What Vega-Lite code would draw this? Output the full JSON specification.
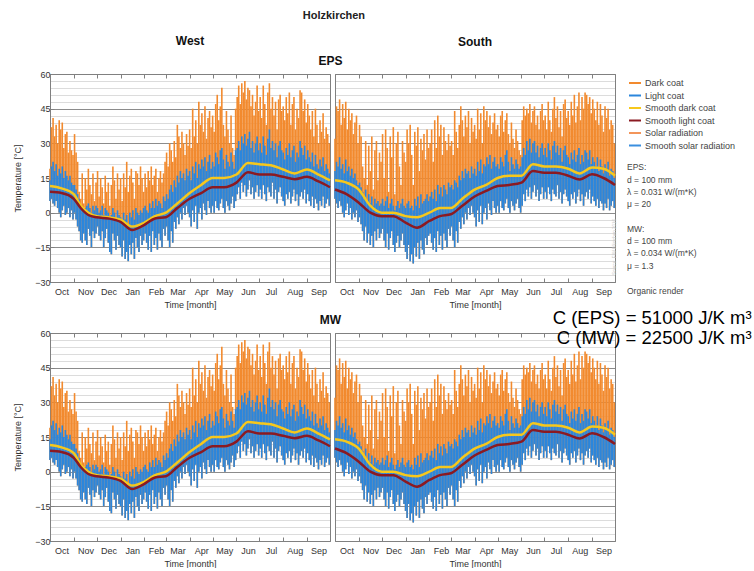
{
"$schema":"https://vega.github.io/schema/vega-lite/v6.json",
"padding":{"left":13,"top":9,"right":0,"bottom":0},
"background":"white",
"title":{"text":"Holzkirchen","anchor":"start","dx":289,"fontSize":11,"fontWeight":"bold","color":"#222","offset":14},
"datasets":{
"w":[{"d":0,"l":5,"b":14,"o":19},{"d":2,"l":6,"b":20,"o":37},{"d":4,"l":4,"b":22,"o":41},{"d":6,"l":3,"b":18,"o":33},{"d":8,"l":5,"b":21,"o":38},{"d":10,"l":2,"b":16,"o":30},{"d":12,"l":0,"b":19,"o":40},{"d":14,"l":-2,"b":17,"o":36},{"d":16,"l":1,"b":20,"o":39},{"d":18,"l":3,"b":15,"o":28},{"d":20,"l":-1,"b":18,"o":34},{"d":22,"l":0,"b":16,"o":35},{"d":24,"l":2,"b":14,"o":26},{"d":26,"l":-2,"b":16,"o":31},{"d":28,"l":1,"b":13,"o":27},{"d":30,"l":-3,"b":12,"o":25},
{"d":32,"l":0,"b":12,"o":34},{"d":34,"l":-3,"b":10,"o":26},{"d":36,"l":-6,"b":8,"o":22},{"d":38,"l":-8,"b":6,"o":9},{"d":40,"l":-12,"b":3,"o":6},{"d":42,"l":-13,"b":2,"o":17},{"d":44,"l":-9,"b":1,"o":4},{"d":46,"l":-12,"b":2,"o":15},{"d":48,"l":-14,"b":3,"o":10},{"d":50,"l":-7,"b":4,"o":19},{"d":52,"l":-10,"b":2,"o":12},{"d":54,"l":-15,"b":0,"o":8},{"d":56,"l":-8,"b":3,"o":17},{"d":58,"l":-11,"b":1,"o":5},{"d":60,"l":-9,"b":3,"o":13},
{"d":62,"l":-6,"b":2,"o":18},{"d":64,"l":-10,"b":0,"o":7},{"d":66,"l":-12,"b":1,"o":15},{"d":68,"l":-8,"b":3,"o":11},{"d":70,"l":-15,"b":-1,"o":4},{"d":72,"l":-11,"b":2,"o":16},{"d":74,"l":-7,"b":1,"o":9},{"d":76,"l":-13,"b":0,"o":13},{"d":78,"l":-17,"b":-2,"o":3},{"d":80,"l":-18,"b":-1,"o":12},{"d":82,"l":-9,"b":2,"o":20},{"d":84,"l":-12,"b":0,"o":14},{"d":86,"l":-16,"b":-3,"o":6},{"d":88,"l":-10,"b":1,"o":17},{"d":90,"l":-14,"b":-1,"o":10},
{"d":92,"l":-15,"b":-2,"o":15},{"d":94,"l":-19,"b":-4,"o":5},{"d":96,"l":-12,"b":0,"o":17},{"d":98,"l":-20,"b":-3,"o":11},{"d":100,"l":-17,"b":-1,"o":22},{"d":102,"l":-21,"b":-5,"o":9},{"d":104,"l":-14,"b":0,"o":16},{"d":106,"l":-18,"b":-2,"o":19},{"d":108,"l":-13,"b":1,"o":13},{"d":110,"l":-20,"b":-3,"o":6},{"d":112,"l":-11,"b":2,"o":18},{"d":114,"l":-15,"b":0,"o":17},{"d":116,"l":-17,"b":-1,"o":12},{"d":118,"l":-10,"b":1,"o":20},{"d":120,"l":-14,"b":0,"o":15},{"d":122,"l":-12,"b":2,"o":9},
{"d":124,"l":-9,"b":3,"o":17},{"d":126,"l":-13,"b":1,"o":11},{"d":128,"l":-16,"b":0,"o":18},{"d":130,"l":-10,"b":4,"o":14},{"d":132,"l":-17,"b":2,"o":20},{"d":134,"l":-8,"b":5,"o":12},{"d":136,"l":-14,"b":2,"o":16},{"d":138,"l":-11,"b":6,"o":19},{"d":140,"l":-16,"b":3,"o":9},{"d":142,"l":-9,"b":5,"o":15},{"d":144,"l":-12,"b":4,"o":18},{"d":146,"l":-15,"b":2,"o":13},{"d":148,"l":-7,"b":7,"o":17},{"d":150,"l":-10,"b":5,"o":22},
{"d":152,"l":-6,"b":8,"o":26},{"d":154,"l":-12,"b":6,"o":20},{"d":156,"l":-15,"b":10,"o":30},{"d":158,"l":-8,"b":12,"o":27},{"d":160,"l":-13,"b":9,"o":22},{"d":162,"l":-4,"b":14,"o":31},{"d":164,"l":-7,"b":11,"o":24},{"d":166,"l":-2,"b":16,"o":38},{"d":168,"l":-5,"b":13,"o":33},{"d":170,"l":0,"b":18,"o":28},{"d":172,"l":-3,"b":15,"o":35},{"d":174,"l":2,"b":17,"o":30},{"d":176,"l":-1,"b":14,"o":25},{"d":178,"l":3,"b":19,"o":34},{"d":180,"l":0,"b":16,"o":29},
{"d":182,"l":-2,"b":18,"o":36},{"d":184,"l":-6,"b":14,"o":28},{"d":186,"l":1,"b":20,"o":45},{"d":188,"l":-4,"b":17,"o":33},{"d":190,"l":3,"b":22,"o":40},{"d":192,"l":-7,"b":15,"o":30},{"d":194,"l":0,"b":21,"o":48},{"d":196,"l":2,"b":19,"o":38},{"d":198,"l":-3,"b":23,"o":43},{"d":200,"l":4,"b":20,"o":35},{"d":202,"l":1,"b":24,"o":46},{"d":204,"l":-1,"b":18,"o":32},{"d":206,"l":5,"b":22,"o":41},{"d":208,"l":2,"b":25,"o":44},{"d":210,"l":0,"b":19,"o":37},
{"d":212,"l":3,"b":22,"o":42},{"d":214,"l":0,"b":20,"o":35},{"d":216,"l":5,"b":26,"o":47},{"d":218,"l":2,"b":24,"o":51},{"d":220,"l":1,"b":21,"o":40},{"d":222,"l":4,"b":27,"o":46},{"d":224,"l":6,"b":28,"o":54},{"d":226,"l":2,"b":23,"o":38},{"d":228,"l":0,"b":19,"o":33},{"d":230,"l":5,"b":25,"o":44},{"d":232,"l":3,"b":22,"o":36},{"d":234,"l":1,"b":20,"o":30},{"d":236,"l":4,"b":26,"o":42},{"d":238,"l":7,"b":22,"o":28},{"d":240,"l":2,"b":19,"o":25},{"d":242,"l":5,"b":27,"o":45},
{"d":244,"l":8,"b":28,"o":50},{"d":246,"l":11,"b":31,"o":55},{"d":248,"l":6,"b":27,"o":47},{"d":250,"l":13,"b":33,"o":56},{"d":252,"l":9,"b":30,"o":52},{"d":254,"l":12,"b":34,"o":57},{"d":256,"l":7,"b":29,"o":49},{"d":258,"l":10,"b":32,"o":54},{"d":260,"l":14,"b":35,"o":53},{"d":262,"l":8,"b":28,"o":46},{"d":264,"l":11,"b":31,"o":51},{"d":266,"l":6,"b":26,"o":42},{"d":268,"l":9,"b":30,"o":48},{"d":270,"l":12,"b":33,"o":55},{"d":272,"l":7,"b":27,"o":44},
{"d":274,"l":10,"b":30,"o":50},{"d":276,"l":6,"b":26,"o":41},{"d":278,"l":12,"b":33,"o":55},{"d":280,"l":8,"b":29,"o":47},{"d":282,"l":5,"b":25,"o":38},{"d":284,"l":11,"b":32,"o":52},{"d":286,"l":9,"b":36,"o":56},{"d":288,"l":7,"b":28,"o":45},{"d":290,"l":13,"b":31,"o":50},{"d":292,"l":6,"b":27,"o":42},{"d":294,"l":10,"b":30,"o":48},{"d":296,"l":4,"b":24,"o":36},{"d":298,"l":9,"b":29,"o":49},{"d":300,"l":11,"b":31,"o":51},{"d":302,"l":7,"b":27,"o":44},
{"d":304,"l":5,"b":26,"o":46},{"d":306,"l":3,"b":23,"o":40},{"d":308,"l":8,"b":28,"o":50},{"d":310,"l":6,"b":25,"o":43},{"d":312,"l":9,"b":30,"o":52},{"d":314,"l":4,"b":24,"o":38},{"d":316,"l":7,"b":27,"o":47},{"d":318,"l":10,"b":29,"o":50},{"d":320,"l":5,"b":22,"o":36},{"d":322,"l":8,"b":26,"o":45},{"d":324,"l":3,"b":24,"o":41},{"d":326,"l":7,"b":31,"o":53},{"d":328,"l":9,"b":28,"o":52},{"d":330,"l":6,"b":25,"o":44},{"d":332,"l":10,"b":29,"o":49},{"d":334,"l":4,"b":23,"o":39},
{"d":336,"l":8,"b":27,"o":47},{"d":338,"l":5,"b":24,"o":42},{"d":340,"l":3,"b":22,"o":36},{"d":342,"l":7,"b":26,"o":44},{"d":344,"l":2,"b":20,"o":33},{"d":346,"l":6,"b":25,"o":45},{"d":348,"l":4,"b":21,"o":38},{"d":350,"l":1,"b":19,"o":30},{"d":352,"l":5,"b":23,"o":40},{"d":354,"l":3,"b":20,"o":35},{"d":356,"l":7,"b":24,"o":43},{"d":358,"l":2,"b":18,"o":32},{"d":360,"l":4,"b":21,"o":37},{"d":362,"l":6,"b":19,"o":34},{"d":364,"l":3,"b":17,"o":30}],
"s":[{"d":0,"l":6,"b":18,"o":32},{"d":2,"l":4,"b":22,"o":46},{"d":4,"l":2,"b":20,"o":44},{"d":6,"l":5,"b":24,"o":49},{"d":8,"l":3,"b":19,"o":38},{"d":10,"l":0,"b":21,"o":47},{"d":12,"l":-2,"b":17,"o":41},{"d":14,"l":1,"b":23,"o":48},{"d":16,"l":4,"b":18,"o":36},{"d":18,"l":-1,"b":20,"o":45},{"d":20,"l":2,"b":16,"o":40},{"d":22,"l":-3,"b":19,"o":43},{"d":24,"l":0,"b":15,"o":34},{"d":26,"l":-2,"b":17,"o":39},{"d":28,"l":1,"b":14,"o":42},{"d":30,"l":-4,"b":12,"o":30},
{"d":32,"l":-2,"b":13,"o":38},{"d":34,"l":-5,"b":11,"o":33},{"d":36,"l":-8,"b":9,"o":20},{"d":38,"l":-12,"b":6,"o":15},{"d":40,"l":-6,"b":10,"o":31},{"d":42,"l":-13,"b":5,"o":12},{"d":44,"l":-9,"b":8,"o":29},{"d":46,"l":-14,"b":4,"o":18},{"d":48,"l":-10,"b":7,"o":33},{"d":50,"l":-15,"b":3,"o":10},{"d":52,"l":-8,"b":6,"o":27},{"d":54,"l":-12,"b":4,"o":31},{"d":56,"l":-7,"b":5,"o":14},{"d":58,"l":-11,"b":3,"o":26},{"d":60,"l":-9,"b":4,"o":22},
{"d":62,"l":-7,"b":6,"o":34},{"d":64,"l":-12,"b":3,"o":15},{"d":66,"l":-15,"b":5,"o":36},{"d":68,"l":-9,"b":7,"o":28},{"d":70,"l":-16,"b":2,"o":9},{"d":72,"l":-11,"b":4,"o":33},{"d":74,"l":-8,"b":6,"o":24},{"d":76,"l":-14,"b":3,"o":37},{"d":78,"l":-17,"b":1,"o":8},{"d":80,"l":-13,"b":3,"o":30},{"d":82,"l":-10,"b":5,"o":35},{"d":84,"l":-15,"b":2,"o":20},{"d":86,"l":-12,"b":4,"o":12},{"d":88,"l":-9,"b":6,"o":31},{"d":90,"l":-14,"b":3,"o":26},
{"d":92,"l":-17,"b":2,"o":22},{"d":94,"l":-20,"b":4,"o":36},{"d":96,"l":-14,"b":5,"o":30},{"d":98,"l":-21,"b":2,"o":38},{"d":100,"l":-18,"b":3,"o":25},{"d":102,"l":-22,"b":1,"o":12},{"d":104,"l":-15,"b":6,"o":35},{"d":106,"l":-19,"b":3,"o":29},{"d":108,"l":-13,"b":7,"o":37},{"d":110,"l":-20,"b":2,"o":18},{"d":112,"l":-12,"b":8,"o":32},{"d":114,"l":-16,"b":4,"o":27},{"d":116,"l":-18,"b":5,"o":34},{"d":118,"l":-11,"b":6,"o":23},{"d":120,"l":-14,"b":8,"o":36},{"d":122,"l":-10,"b":5,"o":28},
{"d":124,"l":-9,"b":7,"o":30},{"d":126,"l":-13,"b":9,"o":36},{"d":128,"l":-16,"b":6,"o":22},{"d":130,"l":-11,"b":10,"o":40},{"d":132,"l":-17,"b":5,"o":28},{"d":134,"l":-8,"b":12,"o":42},{"d":136,"l":-14,"b":8,"o":33},{"d":138,"l":-10,"b":11,"o":38},{"d":140,"l":-16,"b":7,"o":25},{"d":142,"l":-9,"b":12,"o":37},{"d":144,"l":-12,"b":10,"o":31},{"d":146,"l":-15,"b":8,"o":27},{"d":148,"l":-7,"b":13,"o":34},{"d":150,"l":-10,"b":11,"o":29},
{"d":152,"l":-6,"b":12,"o":31},{"d":154,"l":-12,"b":10,"o":25},{"d":156,"l":-15,"b":14,"o":44},{"d":158,"l":-8,"b":13,"o":35},{"d":160,"l":-13,"b":11,"o":28},{"d":162,"l":-4,"b":16,"o":38},{"d":164,"l":-7,"b":14,"o":46},{"d":166,"l":-2,"b":18,"o":40},{"d":168,"l":-5,"b":15,"o":33},{"d":170,"l":0,"b":19,"o":42},{"d":172,"l":-3,"b":17,"o":37},{"d":174,"l":2,"b":18,"o":44},{"d":176,"l":-1,"b":15,"o":30},{"d":178,"l":3,"b":20,"o":41},{"d":180,"l":0,"b":17,"o":35},
{"d":182,"l":-2,"b":19,"o":38},{"d":184,"l":-6,"b":16,"o":32},{"d":186,"l":1,"b":22,"o":45},{"d":188,"l":-4,"b":18,"o":36},{"d":190,"l":3,"b":23,"o":43},{"d":192,"l":-5,"b":17,"o":30},{"d":194,"l":0,"b":21,"o":46},{"d":196,"l":2,"b":20,"o":40},{"d":198,"l":-3,"b":24,"o":44},{"d":200,"l":4,"b":21,"o":37},{"d":202,"l":1,"b":25,"o":42},{"d":204,"l":-1,"b":19,"o":34},{"d":206,"l":5,"b":22,"o":39},{"d":208,"l":2,"b":24,"o":43},{"d":210,"l":0,"b":20,"o":36},
{"d":212,"l":3,"b":21,"o":38},{"d":214,"l":0,"b":19,"o":33},{"d":216,"l":5,"b":24,"o":42},{"d":218,"l":2,"b":22,"o":44},{"d":220,"l":1,"b":20,"o":35},{"d":222,"l":4,"b":25,"o":40},{"d":224,"l":6,"b":27,"o":43},{"d":226,"l":2,"b":22,"o":34},{"d":228,"l":0,"b":18,"o":30},{"d":230,"l":5,"b":24,"o":39},{"d":232,"l":3,"b":21,"o":32},{"d":234,"l":1,"b":19,"o":28},{"d":236,"l":4,"b":23,"o":36},{"d":238,"l":6,"b":21,"o":31},{"d":240,"l":2,"b":19,"o":27},{"d":242,"l":0,"b":20,"o":25},
{"d":244,"l":3,"b":24,"o":40},{"d":246,"l":8,"b":28,"o":46},{"d":248,"l":5,"b":25,"o":42},{"d":250,"l":10,"b":31,"o":45},{"d":252,"l":7,"b":27,"o":43},{"d":254,"l":11,"b":32,"o":47},{"d":256,"l":6,"b":26,"o":39},{"d":258,"l":9,"b":30,"o":44},{"d":260,"l":12,"b":31,"o":46},{"d":262,"l":7,"b":26,"o":38},{"d":264,"l":10,"b":29,"o":42},{"d":266,"l":5,"b":24,"o":36},{"d":268,"l":8,"b":28,"o":44},{"d":270,"l":11,"b":30,"o":47},{"d":272,"l":6,"b":25,"o":40},
{"d":274,"l":9,"b":28,"o":42},{"d":276,"l":6,"b":24,"o":36},{"d":278,"l":11,"b":30,"o":48},{"d":280,"l":8,"b":27,"o":40},{"d":282,"l":5,"b":23,"o":35},{"d":284,"l":10,"b":29,"o":45},{"d":286,"l":8,"b":31,"o":50},{"d":288,"l":7,"b":26,"o":41},{"d":290,"l":12,"b":29,"o":46},{"d":292,"l":6,"b":25,"o":37},{"d":294,"l":9,"b":28,"o":44},{"d":296,"l":4,"b":22,"o":33},{"d":298,"l":8,"b":27,"o":47},{"d":300,"l":10,"b":29,"o":49},{"d":302,"l":7,"b":25,"o":41},
{"d":304,"l":5,"b":24,"o":44},{"d":306,"l":3,"b":21,"o":38},{"d":308,"l":8,"b":26,"o":48},{"d":310,"l":6,"b":23,"o":42},{"d":312,"l":9,"b":27,"o":51},{"d":314,"l":4,"b":22,"o":39},{"d":316,"l":7,"b":25,"o":46},{"d":318,"l":10,"b":28,"o":52},{"d":320,"l":5,"b":21,"o":40},{"d":322,"l":8,"b":25,"o":50},{"d":324,"l":3,"b":22,"o":45},{"d":326,"l":7,"b":27,"o":52},{"d":328,"l":9,"b":26,"o":51},{"d":330,"l":6,"b":23,"o":47},{"d":332,"l":10,"b":27,"o":50},{"d":334,"l":4,"b":21,"o":43},
{"d":336,"l":7,"b":24,"o":49},{"d":338,"l":5,"b":22,"o":45},{"d":340,"l":3,"b":20,"o":40},{"d":342,"l":6,"b":24,"o":48},{"d":344,"l":2,"b":18,"o":38},{"d":346,"l":5,"b":23,"o":47},{"d":348,"l":4,"b":20,"o":42},{"d":350,"l":1,"b":17,"o":35},{"d":352,"l":4,"b":21,"o":46},{"d":354,"l":2,"b":19,"o":41},{"d":356,"l":6,"b":22,"o":45},{"d":358,"l":1,"b":16,"o":36},{"d":360,"l":3,"b":19,"o":40},{"d":362,"l":5,"b":18,"o":38},{"d":364,"l":2,"b":15,"o":30}],
"ws":[{"d":0,"y":11.5,"r":9},{"d":15,"y":10.5,"r":8.5},{"d":31,"y":8,"r":6},{"d":40,"y":3,"r":2},{"d":50,"y":0,"r":-1},{"d":61,"y":-1.5,"r":-2},{"d":76,"y":-2,"r":-2.5},{"d":92,"y":-3,"r":-4},{"d":107,"y":-6,"r":-7.5},{"d":122,"y":-4.5,"r":-5.5},{"d":137,"y":-1.5,"r":-2.5},{"d":151,"y":0,"r":-2},{"d":166,"y":4,"r":2},{"d":182,"y":8.5,"r":6},{"d":197,"y":12,"r":8.5},{"d":212,"y":15,"r":11},{"d":227,"y":15,"r":11},{"d":243,"y":16.5,"r":13},{"d":258,"y":21.5,"r":17.5},{"d":273,"y":21,"r":16.5},{"d":288,"y":20.5,"r":16.5},{"d":304,"y":18.7,"r":15.5},{"d":319,"y":17,"r":14.5},{"d":335,"y":18.7,"r":15.5},{"d":350,"y":16.5,"r":13.5},{"d":365,"y":14,"r":11}],
"ss":[{"d":0,"y":14,"r":10},{"d":15,"y":13,"r":8},{"d":31,"y":10,"r":4.3},{"d":46,"y":3,"r":0},{"d":61,"y":0,"r":-1.5},{"d":76,"y":0,"r":-1.5},{"d":92,"y":-1.5,"r":-4.3},{"d":107,"y":-2,"r":-6.5},{"d":123,"y":0,"r":-3.6},{"d":137,"y":2,"r":-1.5},{"d":151,"y":2,"r":-0.7},{"d":166,"y":6,"r":3},{"d":182,"y":10,"r":7},{"d":197,"y":12,"r":9.4},{"d":212,"y":15,"r":11.5},{"d":227,"y":16,"r":12},{"d":243,"y":16,"r":13},{"d":258,"y":21,"r":18},{"d":273,"y":20,"r":17.3},{"d":288,"y":20,"r":17.3},{"d":304,"y":19,"r":16},{"d":319,"y":17,"r":14.4},{"d":335,"y":19.5,"r":16.6},{"d":350,"y":19,"r":15},{"d":365,"y":16,"r":12}]
},
"columns":2,
"spacing":{"row":51,"column":5},
"bounds":"flush",
"resolve":{"legend":{"color":"independent"},"scale":{"color":"independent"}},
"concat":[
{"width":280,"height":208,
 "title":{"text":"West","offset":7},
 "resolve":{"axis":{"x":"independent","y":"independent"}},
 "layer":[
  {"data":{"name":"w"},"mark":{"type":"rule","color":"#f28a2e","strokeWidth":1.6},
   "encoding":{"x":{"field":"d","type":"quantitative","scale":{"domain":[0,365],"nice":false,"zero":false},"axis":{"orient":"bottom","values":[0,31,61,92,123,151,182,212,243,273,304,335,365],"labelExpr":"['Oct','Nov','Dec','Jan','Feb','Mar','Apr','May','Jun','Jul','Aug','Sep',''][indexof([0,31,61,92,123,151,182,212,243,273,304,335,365],datum.value)]","labelOffset":11.6,"labelPadding":9,"titlePadding":4,"title":"Time [month]"}},
    "y":{"field":"l","type":"quantitative","scale":{"domain":[-30,60],"nice":false,"zero":false},"axis":{"orient":"left","values":[-30,-15,0,15,30,45,60],"grid":true,"gridColor":"#8c8c8c","gridWidth":1.2,"titlePadding":12,"title":"Temperature [°C]"}},
    "y2":{"field":"o"}}},
  {"data":{"name":"w"},"mark":{"type":"rule","color":"#2b86dc","strokeWidth":1.6},
   "encoding":{"x":{"field":"d","type":"quantitative","axis":{"orient":"top","values":[0,31,61,92,123,151,182,212,243,273,304,335,365],"labels":false,"title":"EPS","titleAnchor":"end","titleAlign":"center","titleFontSize":12,"titleFontWeight":"bold","titleColor":"#111","titlePadding":6}},
    "y":{"field":"l","type":"quantitative","axis":{"orient":"right","values":[-27,-24,-21,-18,-12,-9,-6,-3,3,6,9,12,18,21,24,27,33,36,39,42,48,51,54,57],"grid":true,"gridColor":"#dcdcdc","ticks":false,"labels":false,"title":null}},
    "y2":{"field":"b"}}},
  {"data":{"name":"ws"},"mark":{"type":"line","color":"#f7c81c","strokeWidth":2.5,"interpolate":"monotone"},
   "encoding":{"x":{"field":"d","type":"quantitative","axis":null},"y":{"field":"y","type":"quantitative","axis":null}}},
  {"data":{"name":"ws"},"mark":{"type":"line","color":"#8b1a22","strokeWidth":2.5,"interpolate":"monotone"},
   "encoding":{"x":{"field":"d","type":"quantitative","axis":null},"y":{"field":"r","type":"quantitative","axis":null}}}
 ]},
{"width":280,"height":208,
 "title":{"text":"South","offset":25},
 "resolve":{"axis":{"x":"independent","y":"independent"}},
 "layer":[
  {"data":{"name":"s"},"mark":{"type":"rule","strokeWidth":1.6},
   "encoding":{"x":{"field":"d","type":"quantitative","scale":{"domain":[0,365],"nice":false,"zero":false},"axis":{"orient":"bottom","values":[0,31,61,92,123,151,182,212,243,273,304,335,365],"labelExpr":"['Oct','Nov','Dec','Jan','Feb','Mar','Apr','May','Jun','Jul','Aug','Sep',''][indexof([0,31,61,92,123,151,182,212,243,273,304,335,365],datum.value)]","labelOffset":11.6,"labelPadding":9,"titlePadding":4,"title":"Time [month]"}},
    "y":{"field":"l","type":"quantitative","scale":{"domain":[-30,60],"nice":false,"zero":false},"axis":{"orient":"left","values":[-30,-15,0,15,30,45,60],"grid":true,"gridColor":"#8c8c8c","gridWidth":1.2,"labels":false,"title":null}},
    "y2":{"field":"o"},
    "color":{"datum":"Dark coat","type":"nominal","scale":{"domain":["Dark coat","Light coat","Smooth dark coat","Smooth light coat","Solar radiation","Smooth solar radiation"],"range":["#f28a2e","#2b86dc","#f7c81c","#8b1a22","#f3955a","#3a8fdf"]},"legend":{"title":null,"orient":"right","offset":11,"symbolType":"stroke","symbolStrokeWidth":2,"symbolSize":144,"labelFontSize":9,"labelColor":"#444","rowPadding":0.5,"padding":2,"labelOffset":3}}}},
  {"data":{"name":"s"},"mark":{"type":"rule","strokeWidth":1.6},
   "encoding":{"x":{"field":"d","type":"quantitative","axis":{"orient":"top","values":[0,31,61,92,123,151,182,212,243,273,304,335,365],"labels":false,"title":null}},
    "y":{"field":"l","type":"quantitative","axis":{"orient":"right","values":[-27,-24,-21,-18,-12,-9,-6,-3,3,6,9,12,18,21,24,27,33,36,39,42,48,51,54,57],"grid":true,"gridColor":"#dcdcdc","ticks":false,"labels":false,"title":null}},
    "y2":{"field":"b"},
    "color":{"datum":"Light coat","type":"nominal"}}},
  {"data":{"name":"ss"},"mark":{"type":"line","strokeWidth":2.5,"interpolate":"monotone"},
   "encoding":{"x":{"field":"d","type":"quantitative","axis":null},"y":{"field":"y","type":"quantitative","axis":null},"color":{"datum":"Smooth dark coat","type":"nominal"}}},
  {"data":{"name":"ss"},"mark":{"type":"line","strokeWidth":2.5,"interpolate":"monotone"},
   "encoding":{"x":{"field":"d","type":"quantitative","axis":null},"y":{"field":"r","type":"quantitative","axis":null},"color":{"datum":"Smooth light coat","type":"nominal"}}},
  {"data":{"values":[{"t":"EPS:\nd = 100 mm\nλ = 0.031 W/(m*K)\nμ = 20"}]},
   "mark":{"type":"text","align":"left","baseline":"top","dx":12,"fontSize":8.5,"lineHeight":12.3,"lineBreak":"\n","color":"#444"},
   "encoding":{"x":{"datum":365,"type":"quantitative","axis":null},"y":{"datum":21.3,"type":"quantitative","axis":null},"text":{"field":"t"}}},
  {"data":{"values":[{"t":"MW:\nd = 100 mm\nλ = 0.034 W/(m*K)\nμ = 1.3"}]},
   "mark":{"type":"text","align":"left","baseline":"top","dx":12,"fontSize":8.5,"lineHeight":12.3,"lineBreak":"\n","color":"#444"},
   "encoding":{"x":{"datum":365,"type":"quantitative","axis":null},"y":{"datum":-5.2,"type":"quantitative","axis":null},"text":{"field":"t"}}},
  {"data":{"values":[{"t":"Organic render"}]},
   "mark":{"type":"text","align":"left","baseline":"top","dx":12,"fontSize":8.5,"color":"#444"},
   "encoding":{"x":{"datum":365,"type":"quantitative","axis":null},"y":{"datum":-32,"type":"quantitative","axis":null},"text":{"field":"t"}}},
  {"data":{"values":[{"t":"Source: FIW München 2016"}]},
   "mark":{"type":"text","angle":270,"align":"center","baseline":"middle","dx":5,"fontSize":4.5,"color":"#c8c8c8"},
   "encoding":{"x":{"datum":365,"type":"quantitative","axis":null},"y":{"datum":-17,"type":"quantitative","axis":null},"text":{"field":"t"}}}
 ]},
{"width":280,"height":208,
 "resolve":{"axis":{"x":"independent","y":"independent"}},
 "layer":[
  {"data":{"name":"w"},"mark":{"type":"rule","color":"#f28a2e","strokeWidth":1.6},
   "encoding":{"x":{"field":"d","type":"quantitative","scale":{"domain":[0,365],"nice":false,"zero":false},"axis":{"orient":"bottom","values":[0,31,61,92,123,151,182,212,243,273,304,335,365],"labelExpr":"['Oct','Nov','Dec','Jan','Feb','Mar','Apr','May','Jun','Jul','Aug','Sep',''][indexof([0,31,61,92,123,151,182,212,243,273,304,335,365],datum.value)]","labelOffset":11.6,"labelPadding":9,"titlePadding":4,"title":"Time [month]"}},
    "y":{"field":"l","type":"quantitative","scale":{"domain":[-30,60],"nice":false,"zero":false},"axis":{"orient":"left","values":[-30,-15,0,15,30,45,60],"grid":true,"gridColor":"#8c8c8c","gridWidth":1.2,"titlePadding":12,"title":"Temperature [°C]"}},
    "y2":{"field":"o"}}},
  {"data":{"name":"w"},"mark":{"type":"rule","color":"#2b86dc","strokeWidth":1.6},
   "encoding":{"x":{"field":"d","type":"quantitative","axis":{"orient":"top","values":[0,31,61,92,123,151,182,212,243,273,304,335,365],"labels":false,"title":"MW","titleAnchor":"end","titleAlign":"center","titleFontSize":12,"titleFontWeight":"bold","titleColor":"#111","titlePadding":6}},
    "y":{"field":"l","type":"quantitative","axis":{"orient":"right","values":[-27,-24,-21,-18,-12,-9,-6,-3,3,6,9,12,18,21,24,27,33,36,39,42,48,51,54,57],"grid":true,"gridColor":"#dcdcdc","ticks":false,"labels":false,"title":null}},
    "y2":{"field":"b"}}},
  {"data":{"name":"ws"},"mark":{"type":"line","color":"#f7c81c","strokeWidth":2.5,"interpolate":"monotone"},
   "encoding":{"x":{"field":"d","type":"quantitative","axis":null},"y":{"field":"y","type":"quantitative","axis":null}}},
  {"data":{"name":"ws"},"mark":{"type":"line","color":"#8b1a22","strokeWidth":2.5,"interpolate":"monotone"},
   "encoding":{"x":{"field":"d","type":"quantitative","axis":null},"y":{"field":"r","type":"quantitative","axis":null}}}
 ]},
{"width":280,"height":208,
 "title":{"text":["C (EPS) = 51000 J/K m³","C (MW) = 22500 J/K m³"],"anchor":"end","dx":125,"dy":15,"offset":0,"fontSize":18.5,"fontWeight":"normal","color":"#000","lineHeight":20},
 "resolve":{"axis":{"x":"independent","y":"independent"}},
 "layer":[
  {"data":{"name":"s"},"mark":{"type":"rule","color":"#f28a2e","strokeWidth":1.6},
   "encoding":{"x":{"field":"d","type":"quantitative","scale":{"domain":[0,365],"nice":false,"zero":false},"axis":{"orient":"bottom","values":[0,31,61,92,123,151,182,212,243,273,304,335,365],"labelExpr":"['Oct','Nov','Dec','Jan','Feb','Mar','Apr','May','Jun','Jul','Aug','Sep',''][indexof([0,31,61,92,123,151,182,212,243,273,304,335,365],datum.value)]","labelOffset":11.6,"labelPadding":9,"titlePadding":4,"title":"Time [month]"}},
    "y":{"field":"l","type":"quantitative","scale":{"domain":[-30,60],"nice":false,"zero":false},"axis":{"orient":"left","values":[-30,-15,0,15,30,45,60],"grid":true,"gridColor":"#8c8c8c","gridWidth":1.2,"labels":false,"title":null}},
    "y2":{"field":"o"}}},
  {"data":{"name":"s"},"mark":{"type":"rule","color":"#2b86dc","strokeWidth":1.6},
   "encoding":{"x":{"field":"d","type":"quantitative","axis":{"orient":"top","values":[0,31,61,92,123,151,182,212,243,273,304,335,365],"labels":false,"title":null}},
    "y":{"field":"l","type":"quantitative","axis":{"orient":"right","values":[-27,-24,-21,-18,-12,-9,-6,-3,3,6,9,12,18,21,24,27,33,36,39,42,48,51,54,57],"grid":true,"gridColor":"#dcdcdc","ticks":false,"labels":false,"title":null}},
    "y2":{"field":"b"}}},
  {"data":{"name":"ss"},"mark":{"type":"line","color":"#f7c81c","strokeWidth":2.5,"interpolate":"monotone"},
   "encoding":{"x":{"field":"d","type":"quantitative","axis":null},"y":{"field":"y","type":"quantitative","axis":null}}},
  {"data":{"name":"ss"},"mark":{"type":"line","color":"#8b1a22","strokeWidth":2.5,"interpolate":"monotone"},
   "encoding":{"x":{"field":"d","type":"quantitative","axis":null},"y":{"field":"r","type":"quantitative","axis":null}}}
 ]}
],
"config":{
 "font":"Liberation Sans",
 "view":{"stroke":null},
 "title":{"fontSize":12,"fontWeight":"bold","color":"#111"},
 "axis":{"domainColor":"#808080","tickColor":"#808080","labelColor":"#333","labelFontSize":9,"titleFontSize":9,"titleFontWeight":"normal","titleColor":"#333","tickSize":-4,"labelPadding":4,"titlePadding":3,"grid":false,"labelFlush":false,"labelOverlap":false}
}
}
